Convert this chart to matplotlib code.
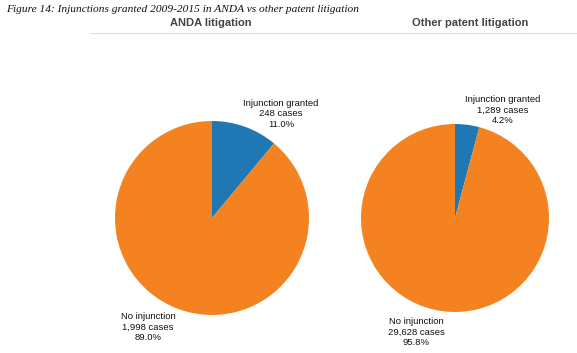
import matplotlib.pyplot as plt

W, H = 577, 353

categories = ["Injunction granted", "No injunction"]
anda_cases = [248, 1998]
anda_pct = [11.0, 89.0]
other_cases = [1289, 29628]
other_pct = [4.2, 95.8]
panel_titles = ["ANDA litigation", "Other patent litigation"]
colors = ["#1f77b4", "#f58220"]

plt.rcParams["font.family"] = ["Liberation Sans", "DejaVu Sans"]

fig = plt.figure(figsize=(W / 100, H / 100), dpi=100)
fig.patch.set_facecolor("white")


def px(x, y):
    return x / W, 1 - y / H


def pie_axes(cx, cy, r):
    return fig.add_axes([(cx - r) / W, 1 - (cy + r) / H, 2 * r / W, 2 * r / H])


fig.text(*px(6, 9), "Figure 14: Injunctions granted 2009-2015 in ANDA vs other patent litigation",
         family="Liberation Serif", style="italic", fontsize=8.2, color="#111111", va="center")
fig.add_artist(plt.Line2D([90 / W, 1], [1 - 33 / H] * 2, color="#dddddd", lw=0.8))

panels = [
    (212, 218, 97, anda_cases, anda_pct, (281, 114), (148, 327), 211),
    (455, 218, 94, other_cases, other_pct, (503, 110), (416, 332), 470),
]

for (cx, cy, r, cases, pct, lab_g, lab_n, tx), title in zip(panels, panel_titles):
    ax = pie_axes(cx, cy, r)
    ax.pie(cases, colors=colors, startangle=90, counterclock=False,
           wedgeprops={"linewidth": 0})
    ax.set_xlim(-1, 1)
    ax.set_ylim(-1, 1)
    ax.set_axis_off()
    fig.text(*px(tx, 23), title, ha="center", va="center", fontsize=8,
             fontweight="bold", color="#444444")
    for pos, name, c, p in zip([lab_g, lab_n], categories, cases, pct):
        fig.text(*px(*pos), f"{name}\n{c:,} cases\n{p:.1f}%", ha="center",
                 va="center", fontsize=6.8, color="#111111", linespacing=1.2)

fig.savefig("out.png", dpi=100)
